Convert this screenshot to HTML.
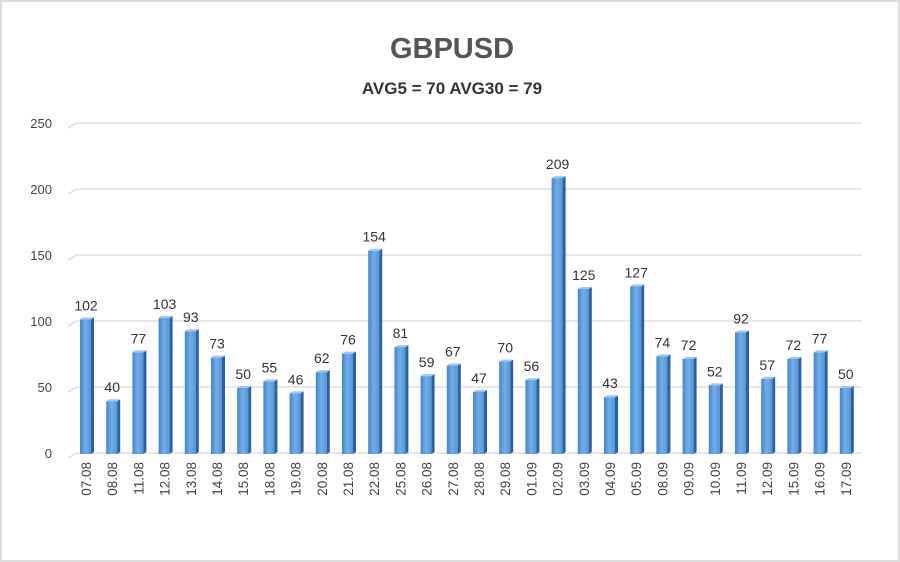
<!DOCTYPE html>
<html><head><meta charset="utf-8"><style>
body{margin:0;background:#fff}
svg{display:block}
text{font-family:"Liberation Sans",sans-serif}
</style></head><body>
<svg width="900" height="562" viewBox="0 0 900 562" xmlns="http://www.w3.org/2000/svg">
<defs>
<linearGradient id="g" x1="0" x2="1" y1="0" y2="0">
<stop offset="0" stop-color="#3f86d2"/><stop offset="0.5" stop-color="#74aee8"/><stop offset="1" stop-color="#4f95dc"/>
</linearGradient>
</defs>
<rect x="1" y="1" width="898" height="560" fill="#fff" stroke="#dcdcdc" stroke-width="2"/>
<text x="452" y="58" text-anchor="middle" font-size="29" font-weight="bold" fill="#555">GBPUSD</text>
<text x="452" y="94" text-anchor="middle" font-size="17" font-weight="bold" fill="#333">AVG5 = 70 AVG30 = 79</text>
<g stroke="#d9d9d9" stroke-width="1.3" fill="none" id="grid"></g>
<g font-size="13" fill="#444" text-anchor="end" id="yl"></g>
<g id="bars"></g>
</svg>
<script>
var ns="http://www.w3.org/2000/svg";
function el(p,t,a,txt){var e=document.createElementNS(ns,t);for(var k in a)e.setAttribute(k,a[k]);if(txt!==undefined)e.textContent=txt;p.appendChild(e);return e;}
var grid=document.getElementById('grid'),yl=document.getElementById('yl'),bars=document.getElementById('bars');
for(var v=0;v<=250;v+=50){var y=454-v*1.32;
el(grid,'path',{d:'M68 '+(y+4)+' L77 '+(y-1)+' L862 '+(y-1)});
el(yl,'text',{x:52,y:y+4},String(v));}
var d=[["07.08",102],["08.08",40],["11.08",77],["12.08",103],["13.08",93],["14.08",73],["15.08",50],["18.08",55],["19.08",46],["20.08",62],["21.08",76],["22.08",154],["25.08",81],["26.08",59],["27.08",67],["28.08",47],["29.08",70],["01.09",56],["02.09",209],["03.09",125],["04.09",43],["05.09",127],["08.09",74],["09.09",72],["10.09",52],["11.09",92],["12.09",57],["15.09",72],["16.09",77],["17.09",50]];
d.forEach(function(p,i){var cx=86+i*26.2,h=p[1]*1.32,top=454-h;
el(bars,'rect',{x:cx-6,y:top,width:11,height:h,fill:'url(#g)'});
el(bars,'polygon',{points:(cx+5)+','+top+' '+(cx+8)+','+(top-2)+' '+(cx+8)+','+452+' '+(cx+5)+','+454,fill:'#2a62a0'});
el(bars,'polygon',{points:(cx-6)+','+top+' '+(cx-3)+','+(top-2)+' '+(cx+8)+','+(top-2)+' '+(cx+5)+','+top,fill:'#9cc8f2'});
el(bars,'text',{x:cx,y:top-9,'text-anchor':'middle','font-size':14,fill:'#333'},String(p[1]));
el(bars,'text',{transform:'translate('+(cx+5)+',462) rotate(-90)','text-anchor':'end','font-size':13.5,fill:'#444'},p[0]);
});
</script>
</body></html>
